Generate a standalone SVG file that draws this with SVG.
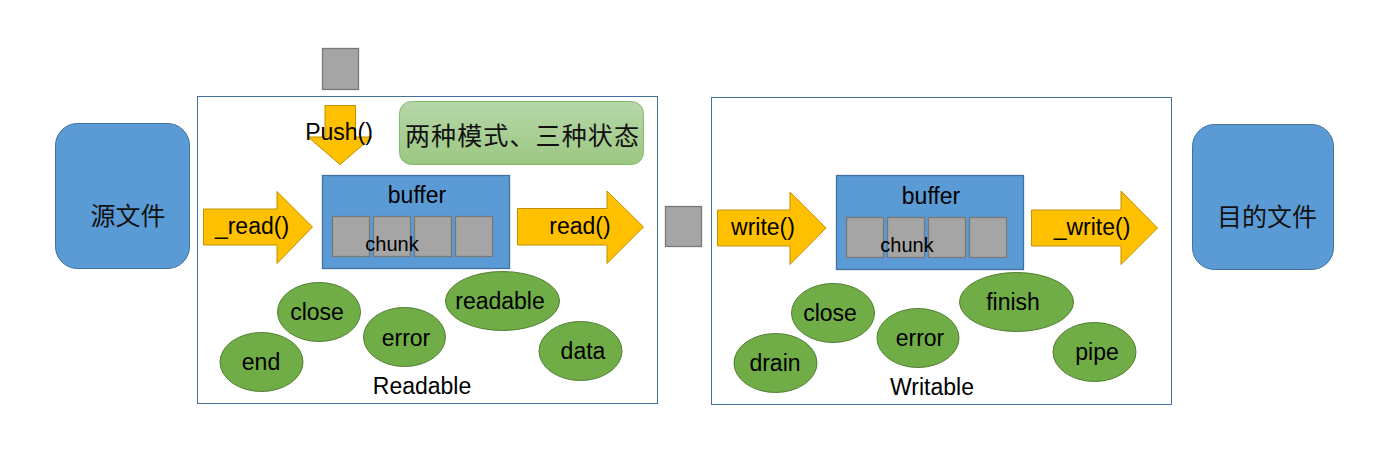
<svg xmlns="http://www.w3.org/2000/svg" width="1392" height="475" viewBox="0 0 1392 475">
<defs>
<linearGradient id="gg" x1="0" y1="0" x2="0" y2="1"><stop offset="0" stop-color="#b6d7a8"/><stop offset="1" stop-color="#9cc782"/></linearGradient>
<style>
.frame{fill:#fff;stroke:#41719c;stroke-width:1}
.file{fill:#5b9bd5;stroke:#41719c;stroke-width:1}
.buf{fill:#5b9bd5;stroke:#41719c;stroke-width:1.3}
.chunk{fill:#a5a5a5;stroke:#787878;stroke-width:1.3}
.arr{fill:#ffc000;stroke:#bf9000;stroke-width:1}
.ev{fill:#70ad47;stroke:#507e32;stroke-width:1}
.t{font-family:"Liberation Sans",Arial,sans-serif;font-size:23px;fill:#000;text-anchor:middle}
.c{font-family:"Liberation Sans",Arial,sans-serif;font-size:20px;fill:#000;text-anchor:middle}
.cjk{font-family:"Noto Sans CJK SC",sans-serif;font-size:25px;fill:#111;text-anchor:middle}
</style>
</defs>
<rect width="1392" height="475" fill="#fff"/>
<g id="source"><rect class="file" x="55.5" y="123.5" width="134" height="145" rx="22"/><text class="cjk" x="128" y="225">源文件</text></g>
<g id="target"><rect class="file" x="1192.5" y="124.5" width="141" height="145" rx="22"/><text class="cjk" x="1267" y="226">目的文件</text></g>
<g id="readable">
<rect class="frame" x="197.5" y="96.5" width="460" height="307"/>
<text class="t" x="422" y="394">Readable</text>
</g>
<g id="writable">
<rect class="frame" x="711.5" y="97.5" width="460" height="307"/>
<text class="t" x="932" y="395">Writable</text>
</g>
<g id="modes"><rect x="399.5" y="101.5" width="244" height="63" rx="12" fill="url(#gg)" stroke="#86b96c"/><text class="cjk" x="522" y="145" style="font-size:25px" textLength="234">两种模式、三种状态</text></g>
<g id="pushChunk"><rect class="chunk" x="322.5" y="48.5" width="36" height="41"/></g>
<g id="midChunk"><rect class="chunk" x="665.5" y="206.5" width="36" height="40"/></g>
<g id="rbuffer">
<rect class="buf" x="322.5" y="175.5" width="187" height="93"/>
<rect class="chunk" x="332.5" y="216.5" width="37" height="40"/>
<rect class="chunk" x="373.5" y="216.5" width="37" height="40"/>
<rect class="chunk" x="414.5" y="216.5" width="37" height="40"/>
<rect class="chunk" x="455.5" y="216.5" width="37" height="40"/>
<text class="t" x="417" y="203">buffer</text>
<text class="c" x="392" y="251">chunk</text>
</g>
<g id="wbuffer">
<rect class="buf" x="836.5" y="175.5" width="187" height="94"/>
<rect class="chunk" x="846.5" y="217.5" width="37" height="40"/>
<rect class="chunk" x="887.5" y="217.5" width="37" height="40"/>
<rect class="chunk" x="928.5" y="217.5" width="37" height="40"/>
<rect class="chunk" x="969.5" y="217.5" width="37" height="40"/>
<text class="t" x="931" y="204">buffer</text>
<text class="c" x="907" y="252">chunk</text>
</g>
<g id="connectors">
<g id="push"><path class="arr" d="M325 105.5H355.5V137H372L340 164.5L308 137H325Z"/><text class="t" x="339" y="140">Push()</text></g>
<g id="_read"><path class="arr" d="M203.5 209H277V191.5L312.5 227L277 263.5V245H203.5Z"/><text class="t" x="252" y="234">_read()</text></g>
<g id="read"><path class="arr" d="M517.5 208.5H607V191L643.5 227L607 263.5V245H517.5Z"/><text class="t" x="580" y="234">read()</text></g>
<g id="write"><path class="arr" d="M717.5 210H790V192L826 228L790 264.5V246H717.5Z"/><text class="t" x="763" y="235">write()</text></g>
<g id="_write"><path class="arr" d="M1031.5 210H1121V191L1157.5 228L1121 264.5V246H1031.5Z"/><text class="t" x="1092" y="235">_write()</text></g>
</g>
<g id="revents">
<g id="r-close"><ellipse class="ev" cx="319" cy="312" rx="41.5" ry="29.5"/><text class="t" x="317" y="320">close</text></g>
<g id="r-end"><ellipse class="ev" cx="261.5" cy="362" rx="41.5" ry="29.5"/><text class="t" x="261" y="370">end</text></g>
<g id="r-error"><ellipse class="ev" cx="404.5" cy="337" rx="41" ry="29.5"/><text class="t" x="406" y="346">error</text></g>
<g id="r-readable"><ellipse class="ev" cx="502.5" cy="301" rx="57" ry="29.5"/><text class="t" x="500" y="309">readable</text></g>
<g id="r-data"><ellipse class="ev" cx="580.5" cy="351" rx="41.5" ry="29.5"/><text class="t" x="583" y="359">data</text></g>
</g>
<g id="wevents">
<g id="w-close"><ellipse class="ev" cx="833" cy="313" rx="41.5" ry="29.5"/><text class="t" x="830" y="321">close</text></g>
<g id="w-drain"><ellipse class="ev" cx="775.5" cy="363" rx="41.5" ry="29.5"/><text class="t" x="775" y="371">drain</text></g>
<g id="w-error"><ellipse class="ev" cx="918" cy="338" rx="41" ry="29.5"/><text class="t" x="920" y="346">error</text></g>
<g id="w-finish"><ellipse class="ev" cx="1016.5" cy="302" rx="57" ry="29.5"/><text class="t" x="1013" y="310">finish</text></g>
<g id="w-pipe"><ellipse class="ev" cx="1094.5" cy="352" rx="41.5" ry="29.5"/><text class="t" x="1097" y="360">pipe</text></g>
</g>
</svg>
